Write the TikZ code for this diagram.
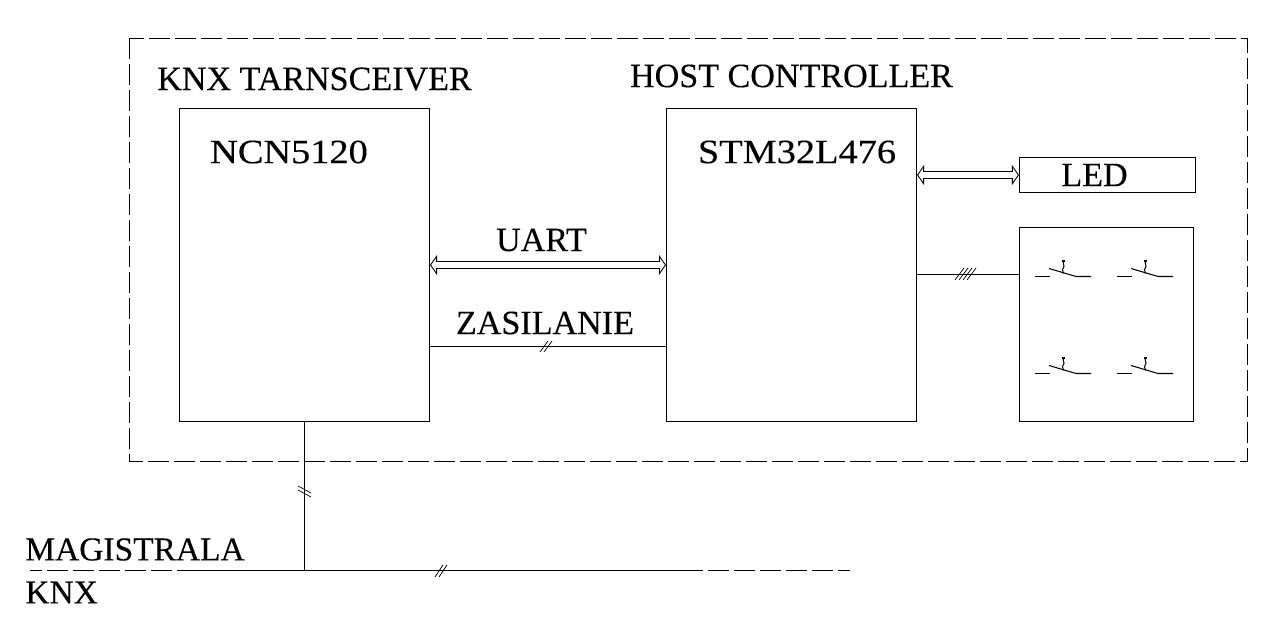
\documentclass[tikz,border=0pt]{standalone}
\usepackage{fontspec}
\setmainfont{Liberation Serif}
\newfontfamily\labelfont[FakeBold=0.25]{Liberation Serif}
\newfontfamily\chipfont[FakeBold=0.25,FakeStretch=1.125]{Liberation Serif}
\usetikzlibrary{arrows.meta,positioning}
\tikzset{
  blockbox/.style={draw=black,line width=0.6pt,inner sep=0pt,fill=none},
  frameline/.style={draw=black,line width=0.6pt,dash pattern=on 0.42cm off 0.1cm},
  buswire/.style={draw=black,line width=0.6pt},
  busdash/.style={buswire,dash pattern=on 0.42cm off 0.1cm},
  slashmark/.style={draw=black,line width=0.4pt},
  duplexlink/.style={draw=black,line width=0.6pt,
    {Triangle[open,length=1.4mm,width=4mm,line width=0.5pt]}-{Triangle[open,length=1.4mm,width=4mm,line width=0.5pt]},
    postaction={draw,-,double,double distance=1.19mm,line width=0.6pt,shorten >=1.2mm,shorten <=1.2mm}},
  textlabel/.style={font=\labelfont\fontsize{19.4}{21}\selectfont,inner sep=0pt,text=black},
  buslabeltext/.style={font=\labelfont\fontsize{19.05}{21}\selectfont,inner sep=0pt,text=black,anchor=west},
  chiplabel/.style={font=\chipfont\fontsize{19.4}{21}\selectfont,inner sep=0pt,text=black},
  pushbtn/.pic={
    \draw[buswire] (-28,0) -- (-13,0);
    \draw[buswire] (-14,-8) -- (13,0) -- (28,0);
    \draw[buswire] (-1.5,-15.5) -- (1.5,-15.5);
    \draw[buswire] (0,-15.5) -- (1,-10) -- (-0.5,-7) -- (0.5,-3);
  }
}
\begin{document}
\begin{tikzpicture}[x=0.02cm,y=-0.02cm]
  \useasboundingbox (0,0) rectangle (1279,621);
  \node[blockbox,minimum width=5cm,minimum height=6.26cm] (ncn) at (304.5,265) {};
  \node[blockbox,minimum width=5cm,minimum height=6.26cm] (stm) at (791.5,265) {};
  \node[blockbox,minimum width=3.52cm,minimum height=0.7cm] (led) at (1107.5,175) {};
  \node[blockbox,minimum width=3.48cm,minimum height=3.88cm] (keys) at (1106.5,324.5) {};
  \node[textlabel] (knxlabel) at (314.5,79) {KNX TARNSCEIVER};
  \node[textlabel] (hostlabel) at (791.5,76) {HOST CONTROLLER};
  \node[chiplabel] (ncnlabel) at (289,152) {NCN5120};
  \node[chiplabel] (stmlabel) at (797,152) {STM32L476};
  \node[textlabel] (ledlabel) at (1094.5,175) {LED};
  \node[textlabel] (uartlabel) at (541.5,240) {UART};
  \node[textlabel] (zaslabel) at (545,323) {ZASILANIE};
  \node[buslabeltext] (buslabel) at (25,549.5) {MAGISTRALA};
  \node[buslabeltext] (knxbuslabel) at (25,592.5) {KNX};

  \coordinate (frametl) at (129.5,38.5);
  \coordinate (framebr) at (1247.5,461.5);
  \draw[frameline] (frametl) rectangle (framebr);

  \coordinate (zas) at (548,346.5);
  \coordinate (keyrow) at (968,274.5);
  \coordinate (busl) at (30,570.5);
  \coordinate (busa) at (172,570.5);
  \coordinate (busb) at (177,570.5);
  \coordinate (busc) at (703,570.5);
  \coordinate (busd) at (708,570.5);
  \coordinate (busr) at (850,570.5);

  \draw[duplexlink] (ncn.east) -- (stm.west);
  \draw[duplexlink] (stm.east |- led.west) -- (led.west);
  \draw[buswire] (ncn.east |- zas) -- (stm.west |- zas);
  \draw[buswire] (stm.east |- keyrow) -- (keys.west |- keyrow);
  \draw[buswire] (ncn.south) -- (ncn.south |- busa);
  \draw[busdash,dash phase=0.18cm] (busl) -- (busa);
  \draw[buswire] (busb) -- (busc);
  \draw[busdash] (busd) -- (busr);

  \foreach \dx in {0,4}
    \draw[slashmark] (540+\dx,352) -- (548+\dx,341);
  \foreach \dx in {0,4}
    \draw[slashmark] (435+\dx,577) -- (443+\dx,565);
  \foreach \dy in {0,4}
    \draw[slashmark] (298,486+\dy) -- (311,493+\dy);
  \foreach \dx in {0,4,8,12}
    \draw[slashmark] (955+\dx,280) -- (964+\dx,268);

  \pic at (1063,276.5) {pushbtn};
  \pic at (1145,276.5) {pushbtn};
  \pic at (1063,373.5) {pushbtn};
  \pic at (1145,373.5) {pushbtn};
\end{tikzpicture}
\end{document}
